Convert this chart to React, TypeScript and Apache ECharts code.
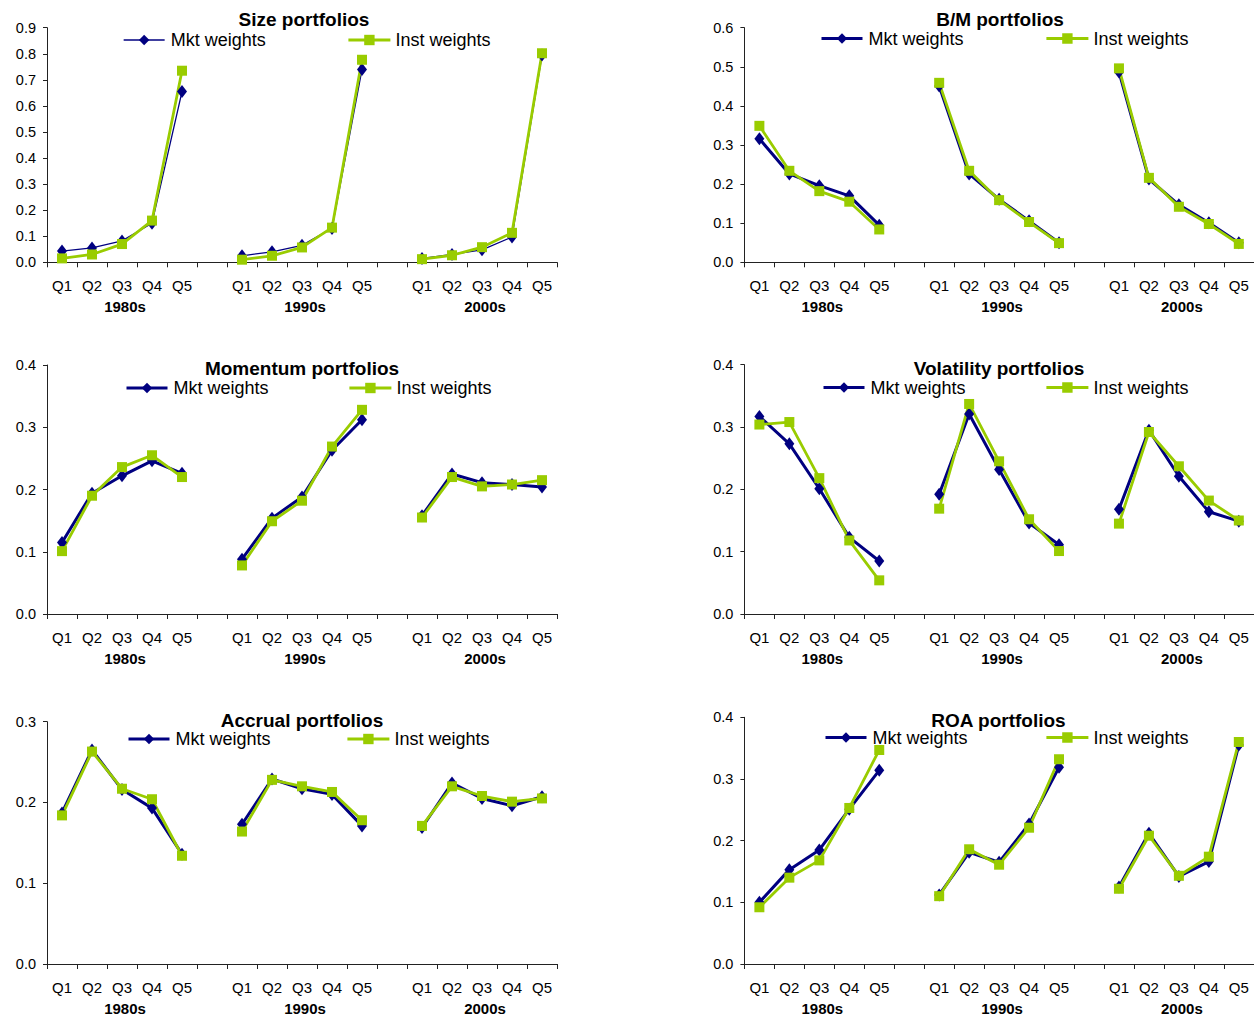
import { useEffect, useRef } from "react";
import * as echarts from "echarts";

const quintiles = ["Q1", "Q2", "Q3", "Q4", "Q5"];
const decades = ["1980s", "1990s", "2000s"];
const seriesNames = ["Mkt weights", "Inst weights"];
const panelTitles = [
  "Size portfolios",
  "B/M portfolios",
  "Momentum portfolios",
  "Volatility portfolios",
  "Accrual portfolios",
  "ROA portfolios",
];
const yMaxes = [0.9, 0.6, 0.4, 0.4, 0.3, 0.4];

// values: 1980s Q1..Q5, 1990s Q1..Q5, 2000s Q1..Q5
const sizeMkt = [0.043, 0.055, 0.082, 0.15, 0.655, 0.025, 0.04, 0.065, 0.13, 0.74, 0.015, 0.03, 0.048, 0.097, 0.795];
const sizeInst = [0.015, 0.03, 0.07, 0.16, 0.735, 0.01, 0.025, 0.057, 0.133, 0.777, 0.012, 0.027, 0.058, 0.113, 0.802];
const bmMkt = [0.316, 0.226, 0.196, 0.17, 0.095, 0.451, 0.226, 0.161, 0.106, 0.05, 0.487, 0.213, 0.147, 0.101, 0.05];
const bmInst = [0.349, 0.234, 0.182, 0.155, 0.084, 0.459, 0.234, 0.159, 0.103, 0.049, 0.496, 0.216, 0.142, 0.098, 0.047];
const momMkt = [0.115, 0.194, 0.222, 0.246, 0.226, 0.088, 0.154, 0.188, 0.263, 0.312, 0.158, 0.225, 0.211, 0.208, 0.204];
const momInst = [0.101, 0.19, 0.236, 0.255, 0.22, 0.078, 0.149, 0.182, 0.269, 0.328, 0.155, 0.22, 0.205, 0.208, 0.215];
const volMkt = [0.317, 0.273, 0.201, 0.123, 0.085, 0.192, 0.321, 0.232, 0.146, 0.111, 0.168, 0.295, 0.221, 0.164, 0.149];
const volInst = [0.304, 0.308, 0.218, 0.118, 0.054, 0.169, 0.337, 0.245, 0.152, 0.101, 0.145, 0.292, 0.237, 0.182, 0.15];
const accMkt = [0.187, 0.265, 0.216, 0.193, 0.136, 0.173, 0.229, 0.217, 0.21, 0.171, 0.169, 0.224, 0.205, 0.196, 0.207];
const accInst = [0.184, 0.263, 0.217, 0.204, 0.134, 0.164, 0.228, 0.22, 0.213, 0.178, 0.171, 0.22, 0.208, 0.201, 0.205];
const roaMkt = [0.1, 0.153, 0.185, 0.251, 0.314, 0.112, 0.181, 0.165, 0.227, 0.319, 0.125, 0.212, 0.142, 0.166, 0.355];
const roaInst = [0.092, 0.14, 0.168, 0.253, 0.347, 0.11, 0.186, 0.161, 0.221, 0.332, 0.122, 0.208, 0.143, 0.174, 0.36];

const panelData = [
  [sizeMkt, sizeInst],
  [bmMkt, bmInst],
  [momMkt, momInst],
  [volMkt, volInst],
  [accMkt, accInst],
  [roaMkt, roaInst],
];

const layout = [
  { left: 47, top: 27.7, width: 510, height: 234.6, titleX: 304, titleY: 19.5, legendY: 40, mktX: 123, instX: 347, mktW: 1.3 },
  { left: 744.4, top: 27.7, width: 509.4, height: 234.6, titleX: 1000, titleY: 19.5, legendY: 38.5, mktX: 820, instX: 1045, mktW: 3 },
  { left: 47, top: 365, width: 510, height: 249, titleX: 302, titleY: 368.5, legendY: 388, mktX: 125, instX: 348, mktW: 3 },
  { left: 744.4, top: 364.7, width: 509.4, height: 249.3, titleX: 999, titleY: 368.5, legendY: 387.5, mktX: 822, instX: 1045, mktW: 3 },
  { left: 47, top: 721.7, width: 510, height: 244, titleX: 302, titleY: 720, legendY: 739, mktX: 127, instX: 346, mktW: 3 },
  { left: 744.4, top: 717.3, width: 509.4, height: 248.4, titleX: 998.5, titleY: 720.5, legendY: 737.5, mktX: 824, instX: 1045, mktW: 3 },
];

const FONT = '"Liberation Sans", Arial, sans-serif';
const MKT_COLOR = "#000080";
const INST_COLOR = "#99CC00";

function buildCategories(): string[] {
  const cats: string[] = [];
  decades.forEach((d, i) => {
    quintiles.forEach((q) => cats.push(d + "|" + q));
    if (i < decades.length - 1) cats.push("gap" + i);
  });
  return cats;
}

function expand(values: number[]): (number | null)[] {
  const out: (number | null)[] = [];
  decades.forEach((_, i) => {
    for (let k = 0; k < quintiles.length; k++) out.push(values[i * quintiles.length + k]);
    if (i < decades.length - 1) out.push(null);
  });
  return out;
}

export default function App() {
  const ref = useRef<HTMLDivElement>(null);
  useEffect(() => {
    if (!ref.current) return;
    const chart = echarts.init(ref.current, null, { renderer: "svg" });
    const categories = buildCategories();

    const grid: any[] = [];
    const xAxis: any[] = [];
    const yAxis: any[] = [];
    const series: any[] = [];
    const legend: any[] = [];
    const graphic: any[] = [];

    layout.forEach((L, p) => {
      grid.push({ left: L.left, top: L.top, width: L.width, height: L.height, containLabel: false });
      xAxis.push({
        type: "category",
        gridIndex: p,
        data: categories,
        boundaryGap: true,
        axisLine: { lineStyle: { color: "#222", width: 1 } },
        axisTick: { show: true, interval: 0, length: 5, lineStyle: { color: "#222" } },
        axisLabel: {
          interval: 0,
          margin: 13,
          formatter: (value: string) => {
            if (value.startsWith("gap")) return "";
            const [dec, q] = value.split("|");
            return q === "Q3" ? `{q|${q}}\n{d|${dec}}` : `{q|${q}}`;
          },
          rich: {
            q: { fontSize: 15, lineHeight: 21, color: "#000", fontFamily: FONT },
            d: { fontSize: 15, lineHeight: 21, color: "#000", fontWeight: "bold", fontFamily: FONT, padding: [0, 0, 0, 6] },
          },
        },
        splitLine: { show: false },
      });
      yAxis.push({
        type: "value",
        gridIndex: p,
        min: 0,
        max: yMaxes[p],
        interval: 0.1,
        axisLine: { show: true, lineStyle: { color: "#222", width: 1 } },
        axisTick: { show: true, length: 4, lineStyle: { color: "#222" } },
        axisLabel: {
          margin: 11,
          fontSize: 14.5,
          color: "#000",
          fontFamily: FONT,
          formatter: (v: number) => v.toFixed(1),
        },
        splitLine: { show: false },
      });
      const [mkt, inst] = panelData[p];
      series.push({
        name: seriesNames[0],
        type: "line",
        xAxisIndex: p,
        yAxisIndex: p,
        data: expand(mkt),
        connectNulls: false,
        symbol: "diamond",
        symbolSize: [10, 13],
        showAllSymbol: true,
        lineStyle: { color: MKT_COLOR, width: L.mktW },
        itemStyle: { color: MKT_COLOR },
        emphasis: { disabled: true },
      });
      series.push({
        name: seriesNames[1],
        type: "line",
        xAxisIndex: p,
        yAxisIndex: p,
        data: expand(inst),
        connectNulls: false,
        symbol: "rect",
        symbolSize: 10,
        showAllSymbol: true,
        lineStyle: { color: INST_COLOR, width: 2.8 },
        itemStyle: { color: INST_COLOR },
        emphasis: { disabled: true },
      });
      legend.push({
        left: L.mktX,
        top: L.legendY - 9,
        padding: 0,
        itemWidth: 41,
        itemHeight: 13,
        selectedMode: false,
        data: [seriesNames[0]],
        lineStyle: { width: L.mktW },
        textStyle: { fontSize: 18, color: "#000", fontFamily: FONT, padding: [0, 0, 0, 1] },
      });
      legend.push({
        left: L.instX,
        top: L.legendY - 9,
        padding: 0,
        itemWidth: 42,
        itemHeight: 13,
        selectedMode: false,
        data: [seriesNames[1]],
        lineStyle: { width: 2.8 },
        textStyle: { fontSize: 18, color: "#000", fontFamily: FONT },
      });
      graphic.push({
        type: "text",
        x: L.titleX,
        y: L.titleY,
        style: {
          text: panelTitles[p],
          font: `bold 19px ${FONT}`,
          fill: "#000",
          textAlign: "center",
          textVerticalAlign: "middle",
        },
      });
    });

    chart.setOption({
      animation: false,
      backgroundColor: "#fff",
      grid,
      xAxis,
      yAxis,
      series,
      legend,
      graphic,
    });
    return () => chart.dispose();
  }, []);

  return (
    <div
      ref={ref}
      style={{ position: "fixed", left: 0, top: 0, width: 1254, height: 1016, background: "#fff" }}
    />
  );
}
